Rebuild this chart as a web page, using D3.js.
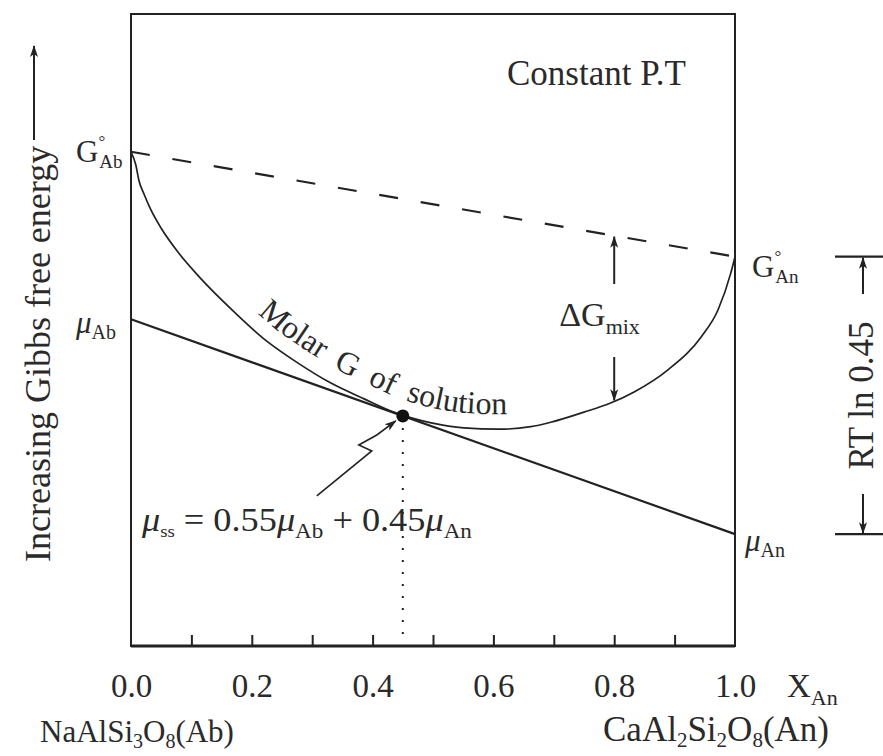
<!DOCTYPE html>
<html><head><meta charset="utf-8">
<script src="https://cdn.jsdelivr.net/npm/d3@7"></script>
<style>
html,body{margin:0;padding:0;background:#fff;}
svg text{font-family:"Liberation Serif","Times New Roman",serif;fill:#2a2a2a;}
</style></head><body>
<svg id="chart" width="883" height="756" font-family="Liberation Serif, serif"></svg>
<script>
// ---------------- data ----------------
const xMinorTicks = [0.1, 0.2, 0.3, 0.4, 0.5, 0.6, 0.7, 0.8, 0.9];
const xTickValues = [0, 0.2, 0.4, 0.6, 0.8, 1.0];
const xTickLabels = ["0.0", "0.2", "0.4", "0.6", "0.8", "1.0"];
const endMembers = ["Ab", "An"];
const gPure = [78.2, 61.6];      // G° of pure Ab and An (arbitrary units)
const muValues = [51.7, 17.7];   // chemical potentials μAb, μAn of the solution
const xSolution = 0.45;          // X_An of the solid solution
const xMix = 0.8;                // where ΔGmix is shown
const curveX = [0, 0.008, 0.013, 0.022, 0.033, 0.05, 0.078, 0.116, 0.166, 0.22, 0.276, 0.331, 0.386, 0.435, 0.497, 0.551, 0.608, 0.662, 0.695, 0.75, 0.793, 0.833, 0.889, 0.944, 0.972, 0.993, 1.0];
const curveG = [78.2, 76.1, 73.7, 71.4, 69.0, 66.1, 62.3, 58.1, 53.3, 48.6, 44.8, 41.6, 39.1, 37.0, 35.3, 34.5, 34.3, 34.7, 35.4, 37.0, 38.4, 40.2, 43.7, 48.9, 53.2, 59.0, 61.6];

// ---------------- setup ----------------
const svg = d3.select("#chart");
const x = d3.scaleLinear().domain([0, 1]).range([131, 735]);
const y = d3.scaleLinear().domain([0, 100]).range([646, 14]);
const ink = "#222";
const serif = '"Liberation Serif","Times New Roman",serif';

const defs = svg.append("defs");
defs.append("marker").attr("id", "arr")
  .attr("viewBox", "0 0 12 10").attr("refX", 11).attr("refY", 5)
  .attr("markerWidth", 12).attr("markerHeight", 10)
  .attr("markerUnits", "userSpaceOnUse").attr("orient", "auto")
  .append("path").attr("d", "M0,1 L12,5 L0,9 L3,5 Z").attr("fill", ink);

// frame
svg.append("rect").attr("x", x(0)).attr("y", y(100))
  .attr("width", x(1) - x(0)).attr("height", y(0) - y(100))
  .attr("fill", "none").attr("stroke", ink).attr("stroke-width", 2);
svg.append("line").attr("x1", x(0)).attr("x2", x(1)).attr("y1", y(0)).attr("y2", y(0))
  .attr("stroke", ink).attr("stroke-width", 3);

// inward minor ticks
const tickAxis = d3.axisBottom(x).tickValues(xMinorTicks).tickSize(-11).tickFormat("");
const gt = svg.append("g").attr("transform", `translate(0,${y(0)})`).call(tickAxis);
gt.select(".domain").remove();
gt.selectAll(".tick line").attr("stroke", ink).attr("stroke-width", 2);

// tick labels
const labAxis = d3.axisBottom(x).tickValues(xTickValues).tickSize(0).tickFormat((d, i) => xTickLabels[i]);
const gl = svg.append("g").attr("transform", `translate(0,${y(0)})`).call(labAxis).attr("font-family", serif);
gl.select(".domain").remove();
gl.selectAll(".tick text").attr("y", 51).attr("dy", 0)
  .style("font-family", serif).style("font-size", "33px").attr("fill", "#2a2a2a");

// helper for labels with subscripts
function label(px, py, parts, anchor, sx) {
  const t = svg.append("text").attr("text-anchor", anchor || "start").style("font-family", serif);
  if (sx) t.attr("transform", `translate(${px},${py}) scale(${sx},1)`).attr("x", 0).attr("y", 0);
  else t.attr("x", px).attr("y", py);
  parts.forEach(p => {
    const s = t.append("tspan").text(p.t).style("font-size", (p.s || 31) + "px");
    if (p.dy) s.attr("dy", p.dy);
    if (p.dx) s.attr("dx", p.dx);
    if (p.it) s.style("font-style", "italic");
  });
  return t;
}

// axis titles
label(787, 697, [{t: "X", s: 33}, {t: "An", s: 22, dy: 8}]);
label(40, 742, [{t: "NaAlSi", s: 31}, {t: "3", s: 20, dy: 6}, {t: "O", s: 31, dy: -6}, {t: "8", s: 20, dy: 6}, {t: "(Ab)", s: 31, dy: -6}]);
label(603, 741, [{t: "CaAl", s: 35}, {t: "2", s: 21, dy: 6}, {t: "Si", s: 35, dy: -6}, {t: "2", s: 21, dy: 6}, {t: "O", s: 35, dy: -6}, {t: "8", s: 21, dy: 6}, {t: "(An)", s: 35, dy: -6}]);

// y title with arrow
svg.append("text").attr("transform", "translate(50,562) rotate(-90)").style("font-family", serif)
  .style("font-size", "36px").text("Increasing Gibbs free energy");
svg.append("line").attr("x1", 34).attr("x2", 34).attr("y1", 140).attr("y2", 46)
  .attr("stroke", ink).attr("stroke-width", 2).attr("marker-end", "url(#arr)");

svg.append("text").attr("x", 507).attr("y", 85).style("font-family", serif).style("font-size", "35px").text("Constant P.T");

// dashed mechanical-mixture line
svg.append("line").attr("x1", x(0)).attr("y1", y(gPure[0])).attr("x2", x(1)).attr("y2", y(gPure[1]))
  .attr("stroke", ink).attr("stroke-width", 2.2).attr("stroke-dasharray", "19,23");

// tangent line μAb — μAn
svg.append("line").attr("x1", x(0)).attr("y1", y(muValues[0])).attr("x2", x(1)).attr("y2", y(muValues[1]))
  .attr("stroke", ink).attr("stroke-width", 2.2);

// molar G curve
const pts = curveX.map((d, i) => [d, curveG[i]]);
const lineGen = d3.line().x(d => x(d[0])).y(d => y(d[1])).curve(d3.curveMonotoneX);
const curvePath = svg.append("path").attr("d", lineGen(pts))
  .attr("fill", "none").attr("stroke", ink).attr("stroke-width", 1.7);

// offset path for the curve label
const node = curvePath.node();
const L = node.getTotalLength();
const off = [];
for (let s = 2; s < L - 2; s += 2) {
  const a = node.getPointAtLength(s - 1.5), b = node.getPointAtLength(s + 1.5), p = node.getPointAtLength(s);
  const dx = b.x - a.x, dy = b.y - a.y, n = Math.hypot(dx, dy) || 1;
  if (p.x > 200 && p.x < 640) off.push([p.x + 15 * dy / n, p.y - 15 * dx / n]);
}
defs.append("path").attr("id", "molarPath").attr("d", d3.line()(off));
let startLen = 0;
for (let i = 1; i < off.length; i++) {
  if (off[i][0] > 258) break;
  startLen += Math.hypot(off[i][0] - off[i - 1][0], off[i][1] - off[i - 1][1]);
}
svg.append("text").style("font-family", serif).style("font-size", "32px").style("word-spacing", "7px")
  .append("textPath").attr("href", "#molarPath").attr("startOffset", startLen)
  .text("Molar G of solution");

// solution point, dotted drop line
const muSS = muValues[0] + xSolution * (muValues[1] - muValues[0]);
const px = x(xSolution), py = y(muSS);
svg.append("line").attr("x1", px).attr("x2", px).attr("y1", py + 12).attr("y2", y(0) - 8)
  .attr("stroke", ink).attr("stroke-width", 2).attr("stroke-dasharray", "2,10");
svg.append("circle").attr("cx", px).attr("cy", py).attr("r", 6.5).attr("fill", "#111");

// squiggle arrow to point
const sq = [[-86, 80], [-31, 35], [-44, 29], [-26, 19], [-7, 5]].map(o => [px + o[0], py + o[1]]);
svg.append("path").attr("d", d3.line()(sq)).attr("fill", "none")
  .attr("stroke", ink).attr("stroke-width", 1.6).attr("marker-end", "url(#arr)");

// μss equation
label(142, 531, [{t: "μ", s: 33, it: true}, {t: "ss", s: 17, dy: 6}, {t: " = 0.55", s: 33, dy: -6},
  {t: "μ", s: 33, it: true}, {t: "Ab", s: 21, dy: 7}, {t: " + 0.45", s: 33, dy: -7},
  {t: "μ", s: 33, it: true}, {t: "An", s: 21, dy: 7}], "start", 1.1);

// endpoint labels
label(76, y(gPure[0]) + 10, [{t: "G", s: 31}, {t: "°", s: 17, dy: -15}, {t: endMembers[0], s: 19, dx: -6, dy: 21}]);
label(752, y(gPure[1]) + 20, [{t: "G", s: 31}, {t: "°", s: 17, dy: -15}, {t: endMembers[1], s: 19, dx: -6, dy: 21}]);
label(76, y(muValues[0]) + 14, [{t: "μ", s: 31, it: true}, {t: endMembers[0], s: 20, dy: 6}]);
label(745, y(muValues[1]) + 17, [{t: "μ", s: 31, it: true}, {t: endMembers[1], s: 20, dy: 6}]);

// ΔGmix arrows
const xm = x(xMix);
const gMech = gPure[0] + xMix * (gPure[1] - gPure[0]);
const idx = d3.bisectLeft(curveX, xMix);
const tI = (xMix - curveX[idx - 1]) / (curveX[idx] - curveX[idx - 1]);
const gSol = curveG[idx - 1] + tI * (curveG[idx] - curveG[idx - 1]);
svg.append("line").attr("x1", xm).attr("x2", xm).attr("y1", 284).attr("y2", y(gMech) + 1)
  .attr("stroke", ink).attr("stroke-width", 2).attr("marker-end", "url(#arr)");
svg.append("line").attr("x1", xm).attr("x2", xm).attr("y1", 357).attr("y2", y(gSol) - 1)
  .attr("stroke", ink).attr("stroke-width", 2).attr("marker-end", "url(#arr)");
label(xm - 55, 326, [{t: "Δ", s: 34}, {t: "G", s: 34}, {t: "mix", s: 22, dy: 8}]);

// RT ln 0.45 bracket
const yTop = y(gPure[1]), yBot = y(muValues[1]);
[yTop, yBot].forEach(v => svg.append("line").attr("x1", 835).attr("x2", 883).attr("y1", v).attr("y2", v)
  .attr("stroke", ink).attr("stroke-width", 2.2));
svg.append("line").attr("x1", 863).attr("x2", 863).attr("y1", 294).attr("y2", yTop + 1)
  .attr("stroke", ink).attr("stroke-width", 2).attr("marker-end", "url(#arr)");
svg.append("line").attr("x1", 863).attr("x2", 863).attr("y1", 494).attr("y2", yBot - 1)
  .attr("stroke", ink).attr("stroke-width", 2).attr("marker-end", "url(#arr)");
svg.append("text").attr("transform", `translate(873,${(yTop + yBot) / 2}) rotate(-90)`).style("font-family", serif)
  .attr("text-anchor", "middle").style("font-size", "35px").text("RT ln 0.45");
</script>
</body></html>
